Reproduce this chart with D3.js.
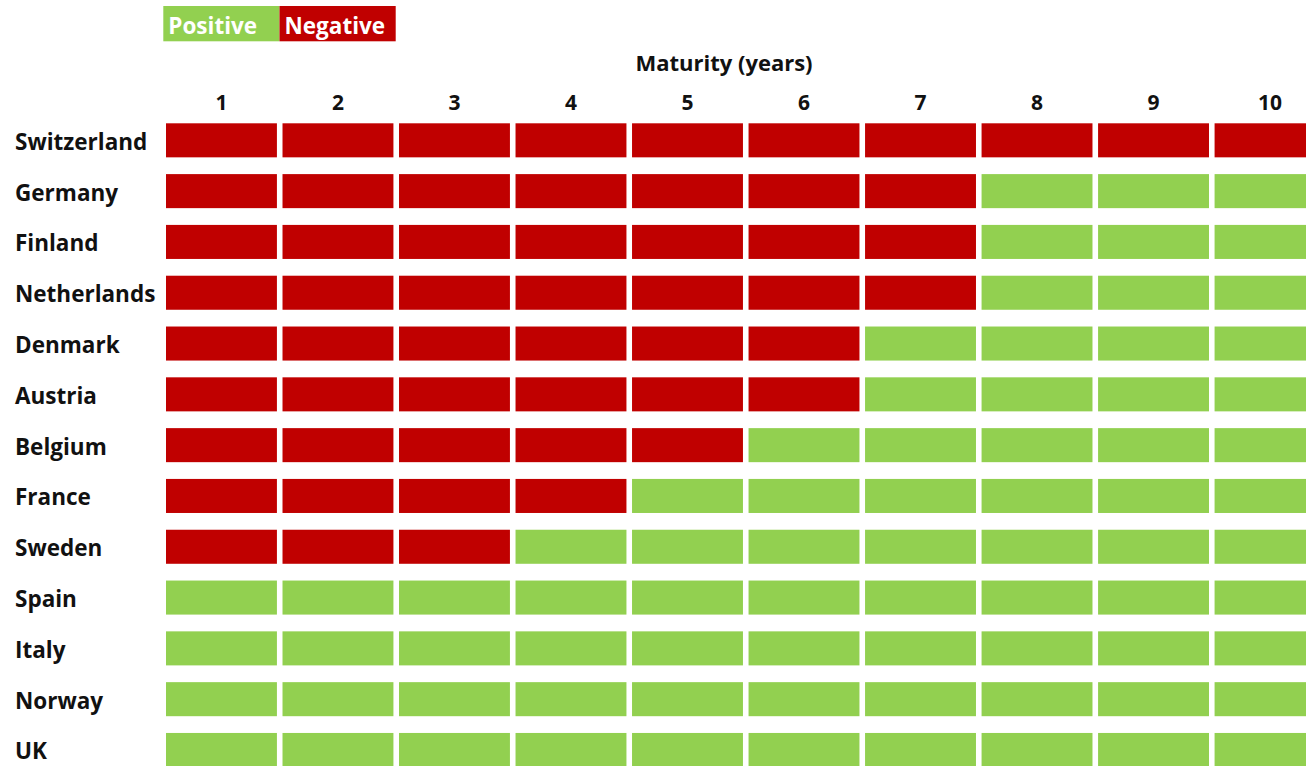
<html>
 <head>
  <title>Negative yields by maturity</title>
  <script src="https://d3js.org/d3.v7.min.js"></script>
  <style>
   body{margin:0;background:#fff;}
   text{font-family:"Open Sans",sans-serif;font-weight:bold;}
  </style>
 </head>
 <body>
  <svg></svg>
  <script>
    var svgWidth=1306,svgHeight=766;

    var countries=["Switzerland","Germany","Finland","Netherlands","Denmark","Austria","Belgium","France","Sweden","Spain","Italy","Norway","UK"];
    var maturities=[1,2,3,4,5,6,7,8,9,10];
    // how many maturities (from 1 year) have negative yields
    var negativeUpTo=[10,7,7,7,6,6,5,4,3,0,0,0,0];
    var legendLabels=["Positive","Negative"];

    var green="#92D050",red="#C00000";

    var svg=d3.select("svg").attr("width",svgWidth).attr("height",svgHeight);

    var x=d3.scaleBand().domain(maturities).range([166,1325.5]).paddingInner(0.048).paddingOuter(0);
    var y=d3.scaleBand().domain(countries).range([123.3,767]).paddingInner(0.33).paddingOuter(0);

    var cells=[];
    countries.forEach(function(c,i){
      maturities.forEach(function(m){
        cells.push({country:c,maturity:m,negative:m<=negativeUpTo[i]});
      });
    });

    svg.append("g").selectAll("rect").data(cells).enter().append("rect")
       .attr("x",function(d){return x(d.maturity);})
       .attr("y",function(d){return y(d.country);})
       .attr("width",x.bandwidth())
       .attr("height",y.bandwidth())
       .attr("fill",function(d){return d.negative?red:green;});

    // row labels
    svg.append("g").selectAll("text").data(countries).enter().append("text")
       .attr("x",15)
       .attr("y",function(d){return y(d)+y.bandwidth()/2+9.5;})
       .attr("font-size",22.5)
       .attr("fill","#111")
       .text(function(d){return d;});

    // column labels
    svg.append("g").selectAll("text").data(maturities).enter().append("text")
       .attr("x",function(d){return x(d)+x.bandwidth()/2;})
       .attr("y",110)
       .attr("text-anchor","middle")
       .attr("font-size",21)
       .attr("fill","#111")
       .text(function(d){return d;});

    svg.append("text").attr("x",724).attr("y",71).attr("text-anchor","middle")
       .attr("font-size",22).attr("fill","#111").text("Maturity (years)");

    // legend
    var lx=d3.scaleBand().domain(legendLabels).range([163.3,395.7]);
    var leg=svg.append("g").selectAll("g").data(legendLabels).enter().append("g");
    leg.append("rect")
       .attr("x",function(d){return lx(d);}).attr("y",6)
       .attr("width",lx.bandwidth()).attr("height",35.3)
       .attr("fill",function(d,i){return i==0?green:red;});
    leg.append("text")
       .attr("x",function(d){return lx(d)+5;}).attr("y",33.5)
       .attr("font-size",22.5).attr("fill","#fff")
       .text(function(d){return d;});
  </script>
 </body>
</html>
